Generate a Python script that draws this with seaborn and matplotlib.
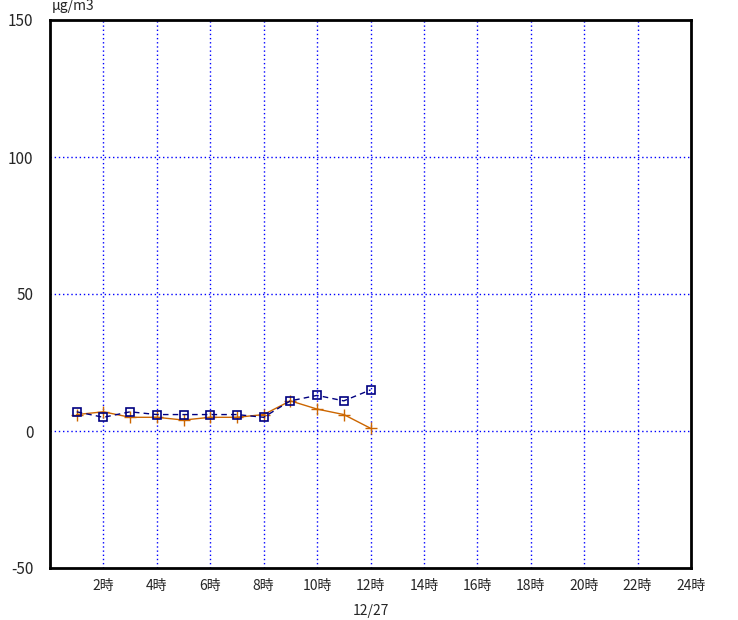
import numpy as np
import pandas as pd
import matplotlib
matplotlib.use("Agg")
import matplotlib.pyplot as plt
import seaborn as sns

hours = [1, 2, 3, 4, 5, 6, 7, 8, 9, 10, 11, 12]
blue_vals = [7, 5, 7, 6, 6, 6, 6, 5, 11, 13, 11, 15]
orange_vals = [6, 7, 5, 5, 4, 5, 5, 6, 11, 8, 6, 1]
xticks = [2, 4, 6, 8, 10, 12, 14, 16, 18, 20, 22, 24]
xticklabels = [f"{h}時" for h in xticks]
yticks = [-50, 0, 50, 100, 150]

sns.set_style("white")
plt.rcParams['font.family'] = ['Noto Sans CJK JP', 'DejaVu Sans']

df = pd.DataFrame({"hour": hours, "blue": blue_vals, "orange": orange_vals})

fig = plt.figure(figsize=(7.38, 6.2), dpi=100)
ax = fig.add_axes([50 / 738, 52 / 620, 641 / 738, 548 / 620])

# gridlines
for x in xticks[:-1]:
    ax.axvline(x, color="#0000ff", linestyle=(0, (1, 2)), linewidth=1, zorder=0)
for y in yticks[1:-1]:
    ax.axhline(y, color="#0000ff", linestyle=(0, (1, 2)), linewidth=1, zorder=0)

sns.lineplot(data=df, x="hour", y="orange", ax=ax, color="#cc6600", linewidth=1,
             marker="+", markersize=8, markeredgewidth=1, markeredgecolor="#cc6600")
sns.lineplot(data=df, x="hour", y="blue", ax=ax, color="#000080", linewidth=1,
             linestyle=(0, (4, 3)), marker="s", markersize=6, markerfacecolor="none",
             markeredgecolor="#000080", markeredgewidth=1.2)

ax.set_xlim(0, 24)
ax.set_ylim(-50, 150)
ax.set_xticks(xticks)
ax.set_xticklabels(xticklabels, fontsize=10)
ax.set_yticks(yticks)
ax.set_yticklabels([str(v) for v in yticks], fontsize=11)
ax.tick_params(axis="both", length=0)
ax.tick_params(axis="y", pad=12)
ax.tick_params(axis="x", pad=8)
ax.set_xlabel("12/27", fontsize=10, labelpad=8)
ax.set_ylabel("")
for s in ax.spines.values():
    s.set_color("black")
    s.set_linewidth(2)
fig.text(52 / 738, 1 - 6 / 620, "μg/m3", fontsize=10, va="center", ha="left")

fig.savefig("out.png", dpi=100)
